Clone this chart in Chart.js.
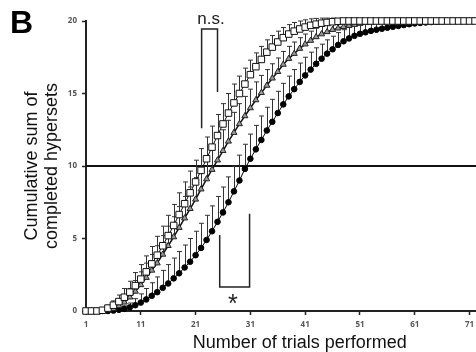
<!doctype html>
<html lang="en">
<head>
<meta charset="UTF-8">
<title>Cumulative sum of completed hypersets</title>
<script src="https://cdn.jsdelivr.net/npm/chart.js@4.4.1/dist/chart.umd.min.js"></script>
<style>
  html, body { margin: 0; padding: 0; overflow: hidden; background: #fff; }
  canvas { display: block; }
</style>
</head>
<body>
<canvas id="canvas" width="520" height="352"></canvas>
<script>
  // trial number (x) - the figure is cropped on the right, so trials run past the visible edge
  var trials = [
    1, 2, 3, 4, 5, 6, 7, 8, 9, 10,
    11, 12, 13, 14, 15, 16, 17, 18, 19, 20,
    21, 22, 23, 24, 25, 26, 27, 28, 29, 30,
    31, 32, 33, 34, 35, 36, 37, 38, 39, 40,
    41, 42, 43, 44, 45, 46, 47, 48, 49, 50,
    51, 52, 53, 54, 55, 56, 57, 58, 59, 60,
    61, 62, 63, 64, 65, 66, 67, 68, 69, 70,
    71, 72, 73, 74, 75, 76, 77, 78, 79
  ];

  // open squares
  var squares = [
    0, 0, 0, 0.05, 0.2, 0.4, 0.65, 0.95, 1.3, 1.75,
    2.2, 2.7, 3.25, 3.85, 4.5, 5.2, 5.9, 6.65, 7.4, 8.15,
    8.9, 9.7, 10.5, 11.3, 12.1, 12.9, 13.65, 14.35, 15.0, 15.65,
    16.3, 16.85, 17.35, 17.85, 18.2, 18.55, 18.85, 19.1, 19.3, 19.45,
    19.58, 19.7, 19.78, 19.85, 19.9, 19.95, 19.98, 20, 20, 20,
    20, 20, 20, 20, 20, 20, 20, 20, 20, 20,
    20, 20, 20, 20, 20, 20, 20, 20, 20, 20,
    20, 20, 20, 20, 20, 20, 20, 20, 20
  ];
  var squaresErr = [
    0, 0, 0, 0.1, 0.2, 0.3, 0.45, 0.6, 0.75, 0.9,
    1.0, 1.1, 1.2, 1.3, 1.35, 1.4, 1.45, 1.5, 1.5, 1.5,
    1.5, 1.5, 1.5, 1.45, 1.45, 1.4, 1.35, 1.3, 1.2, 1.1,
    1.0, 0.95, 0.9, 0.85, 0.8, 0.75, 0.7, 0.65, 0.6, 0.55,
    0.5, 0.45, 0.4, 0.35, 0.3, 0.25, 0.2, 0.15, 0.1, 0.05,
    0, 0, 0, 0, 0, 0, 0, 0, 0, 0,
    0, 0, 0, 0, 0, 0, 0, 0, 0, 0,
    0, 0, 0, 0, 0, 0, 0, 0, 0
  ];

  // grey triangles
  var triangles = [
    0, 0, 0, 0, 0.05, 0.15, 0.35, 0.6, 0.95, 1.35,
    1.8, 2.3, 2.8, 3.3, 3.9, 4.5, 5.1, 5.75, 6.4, 7.05,
    7.7, 8.4, 9.1, 9.75, 10.4, 11.05, 11.7, 12.3, 12.9, 13.45,
    14.0, 14.55, 15.05, 15.55, 16.05, 16.5, 17.0, 17.4, 17.75, 18.1,
    18.4, 18.65, 18.9, 19.1, 19.25, 19.4, 19.5, 19.6, 19.68, 19.75,
    19.82, 19.88, 19.92, 19.95, 19.98, 20, 20, 20, 20, 20,
    20, 20, 20, 20, 20, 20, 20, 20, 20, 20,
    20, 20, 20, 20, 20, 20, 20, 20, 20
  ];
  var trianglesErr = [
    0, 0, 0, 0, 0.1, 0.2, 0.3, 0.45, 0.6, 0.75,
    0.9, 1.0, 1.1, 1.2, 1.3, 1.35, 1.4, 1.45, 1.5, 1.5,
    1.5, 1.5, 1.5, 1.5, 1.5, 1.45, 1.45, 1.4, 1.4, 1.35,
    1.3, 1.25, 1.2, 1.1, 1.0, 0.95, 0.9, 0.85, 0.8, 0.75,
    0.7, 0.65, 0.6, 0.55, 0.5, 0.45, 0.4, 0.35, 0.3, 0.25,
    0.2, 0.15, 0.1, 0.08, 0.05, 0, 0, 0, 0, 0,
    0, 0, 0, 0, 0, 0, 0, 0, 0, 0,
    0, 0, 0, 0, 0, 0, 0, 0, 0
  ];

  // black circles
  var circles = [
    0, 0, 0, 0, 0, 0.03, 0.08, 0.15, 0.25, 0.4,
    0.58, 0.8, 1.05, 1.3, 1.6, 1.9, 2.25, 2.6, 3.0, 3.4,
    3.85, 4.35, 4.9, 5.5, 6.15, 6.8, 7.5, 8.25, 9.0, 9.8,
    10.5, 11.15, 11.8, 12.45, 13.05, 13.65, 14.25, 14.8, 15.3, 15.8,
    16.25, 16.65, 17.05, 17.4, 17.75, 18.05, 18.35, 18.6, 18.8, 18.98,
    19.12, 19.22, 19.32, 19.4, 19.47, 19.54, 19.6, 19.66, 19.72, 19.78,
    19.83, 19.87, 19.9, 19.93, 19.95, 19.97, 19.98, 19.99, 20, 20,
    20, 20, 20, 20, 20, 20, 20, 20, 20
  ];
  var circlesErr = [
    0, 0, 0, 0, 0, 0.05, 0.1, 0.2, 0.3, 0.45,
    0.6, 0.75, 0.9, 1.05, 1.2, 1.3, 1.4, 1.5, 1.55, 1.6,
    1.65, 1.7, 1.7, 1.75, 1.75, 1.75, 1.75, 1.75, 1.75, 1.7,
    1.7, 1.65, 1.65, 1.6, 1.55, 1.5, 1.45, 1.4, 1.35, 1.3,
    1.25, 1.2, 1.1, 1.0, 0.95, 0.9, 0.85, 0.8, 0.75, 0.7,
    0.65, 0.6, 0.55, 0.5, 0.45, 0.4, 0.35, 0.3, 0.25, 0.2,
    0.15, 0.12, 0.1, 0.08, 0.05, 0.03, 0, 0, 0, 0,
    0, 0, 0, 0, 0, 0, 0, 0, 0
  ];

  var xTicks = [1, 11, 21, 31, 41, 51, 61, 71];
  var refLine = 10;

  // significance brackets, in data units: [x left, x right], y of ends
  var nsBracket = { x: [22.1, 25.0], yTop: 19.45, yLeft: 12.6, yRight: 15.1, label: 'n.s.', labelX: 23.8, labelY: 19.8 };
  var starBracket = { x: [25.4, 30.85], yBottom: 1.65, yLeft: 5.25, yRight: 6.7, label: '*', labelX: 27.8, labelY: 1.3 };

  var toPoints = vals => vals.map((v, i) => ({ x: trials[i], y: v }));

  var errorBars = {
    id: 'errorBars',
    beforeDatasetsDraw(chart) {
      var ctx = chart.ctx, ys = chart.scales.y;
      ctx.save();
      // horizontal reference line
      var ry = Math.round(ys.getPixelForValue(refLine));
      ctx.strokeStyle = '#111';
      ctx.lineWidth = 2;
      ctx.beginPath();
      ctx.moveTo(chart.chartArea.left, ry);
      ctx.lineTo(chart.width, ry);
      ctx.stroke();

      ctx.strokeStyle = '#333';
      ctx.lineWidth = 1;
      chart.data.datasets.forEach((ds, di) => {
        var meta = chart.getDatasetMeta(di);
        meta.data.forEach((pt, i) => {
          var e = ds.err[i];
          if (!e) return;
          var top = ys.getPixelForValue(ds.data[i].y + e);
          var x = Math.round(pt.x) + 0.5;
          ctx.beginPath();
          ctx.moveTo(x, pt.y);
          ctx.lineTo(x, top);
          ctx.moveTo(x - 2.5, top);
          ctx.lineTo(x + 2.5, top);
          ctx.stroke();
        });
      });
      ctx.restore();
    }
  };

  var annotations = {
    id: 'annotations',
    afterDraw(chart) {
      var ctx = chart.ctx, xs = chart.scales.x, ys = chart.scales.y;
      var px = v => xs.getPixelForValue(v), py = v => ys.getPixelForValue(v);
      ctx.save();
      ctx.strokeStyle = '#222';
      ctx.lineWidth = 1.5;

      var b = nsBracket;
      ctx.beginPath();
      ctx.moveTo(px(b.x[0]), py(b.yLeft));
      ctx.lineTo(px(b.x[0]), py(b.yTop));
      ctx.lineTo(px(b.x[1]), py(b.yTop));
      ctx.lineTo(px(b.x[1]), py(b.yRight));
      ctx.stroke();
      ctx.fillStyle = '#222';
      ctx.font = '17px "Liberation Sans", Arial, sans-serif';
      ctx.textAlign = 'center';
      ctx.textBaseline = 'alphabetic';
      ctx.fillText(b.label, px(b.labelX), py(b.labelY));

      var s = starBracket;
      ctx.beginPath();
      ctx.moveTo(px(s.x[0]), py(s.yLeft));
      ctx.lineTo(px(s.x[0]), py(s.yBottom));
      ctx.lineTo(px(s.x[1]), py(s.yBottom));
      ctx.lineTo(px(s.x[1]), py(s.yRight));
      ctx.stroke();
      ctx.font = '25px "Liberation Sans", Arial, sans-serif';
      ctx.textBaseline = 'top';
      ctx.fillText(s.label, px(s.labelX), py(s.labelY));

      // panel letter
      ctx.fillStyle = '#000';
      ctx.font = 'bold 32px "Liberation Sans", Arial, sans-serif';
      ctx.textAlign = 'left';
      ctx.textBaseline = 'alphabetic';
      ctx.fillText('B', 10, 33);
      ctx.restore();
    }
  };

  var tickFont = { family: '"Open Sans", sans-serif', size: 8, weight: 'bold' };

  new Chart(document.getElementById('canvas'), {
    type: 'line',
    data: {
      datasets: [
        {
          label: 'squares',
          data: toPoints(squares),
          err: squaresErr,
          borderColor: '#111',
          borderWidth: 1,
          pointStyle: 'rect',
          pointRadius: 4.6,
          pointBackgroundColor: '#fff',
          pointBorderColor: '#111',
          pointBorderWidth: 1,
          clip: false
        },
        {
          label: 'triangles',
          data: toPoints(triangles),
          err: trianglesErr,
          borderColor: '#111',
          borderWidth: 1.5,
          pointStyle: 'triangle',
          pointRadius: 3.5,
          pointBackgroundColor: '#999',
          pointBorderColor: '#222',
          pointBorderWidth: 1,
          clip: false
        },
        {
          label: 'circles',
          data: toPoints(circles),
          err: circlesErr,
          borderColor: '#000',
          borderWidth: 1,
          pointStyle: 'circle',
          pointRadius: 2.8,
          pointBackgroundColor: '#000',
          pointBorderColor: '#000',
          pointBorderWidth: 1,
          clip: false
        }
      ]
    },
    options: {
      responsive: false,
      devicePixelRatio: 1,
      animation: false,
      layout: { padding: { left: 0, top: 21, right: 6.6, bottom: 0 } },
      plugins: { legend: { display: false }, tooltip: { enabled: false } },
      scales: {
        x: {
          type: 'linear',
          min: 1,
          max: 79,
          afterBuildTicks: s => { s.ticks = xTicks.map(v => ({ value: v })); },
          afterFit: s => { s.height = 41; },
          grid: { display: true, drawOnChartArea: false, tickLength: 4, color: '#222', tickWidth: 1.5 },
          border: { display: true, color: '#222', width: 2 },
          ticks: { font: tickFont, color: '#555', padding: 5, maxRotation: 0, autoSkip: false },
          title: {
            display: true,
            text: 'Number of trials performed',
            color: '#111',
            font: { family: '"Liberation Sans", Arial, sans-serif', size: 18, lineHeight: 1.0 },
            padding: { top: 0, bottom: 0 }
          }
        },
        y: {
          min: 0,
          max: 20,
          afterFit: s => { s.width = 86; },
          grid: { display: true, drawOnChartArea: false, tickLength: 4, color: '#222', tickWidth: 1.5 },
          border: { display: true, color: '#222', width: 2 },
          ticks: { stepSize: 5, font: tickFont, color: '#555', padding: 5 },
          title: {
            display: true,
            text: ['Cumulative sum of', 'completed hypersets'],
            color: '#111',
            font: { family: '"Liberation Sans", Arial, sans-serif', size: 18, lineHeight: 1.12 },
            padding: { top: 22, bottom: 0 }
          }
        }
      }
    },
    plugins: [errorBars, annotations]
  });
</script>
</body>
</html>
